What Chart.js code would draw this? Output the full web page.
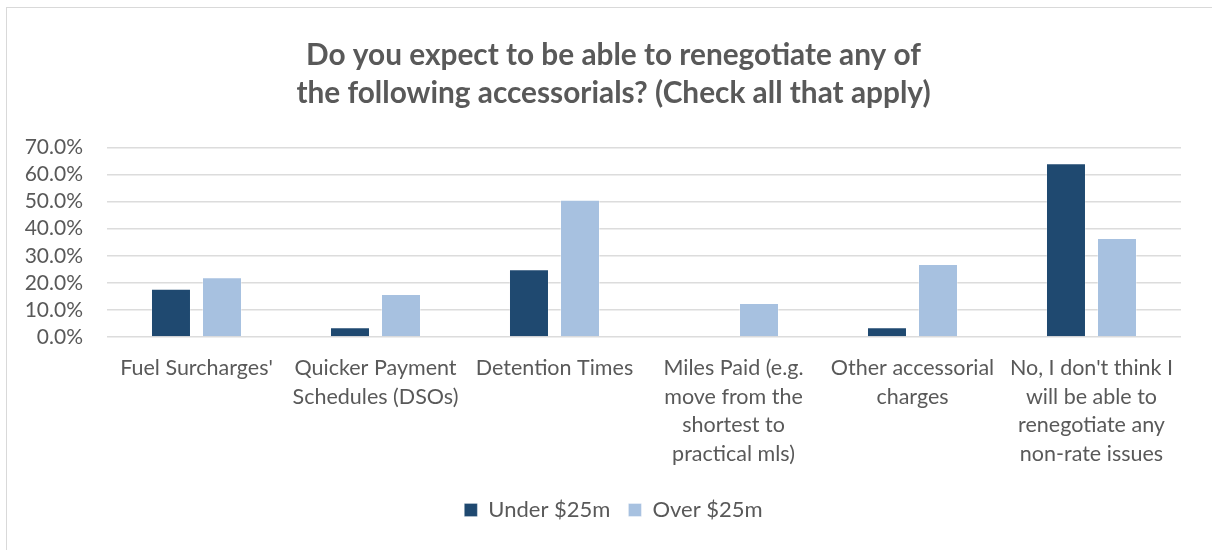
<!DOCTYPE html>
<html>
<head>
<meta charset="utf-8">
<script src="https://cdn.jsdelivr.net/npm/chart.js@4"></script>
<style>
  html, body { margin: 0; padding: 0; background: #fff; overflow: hidden; }
  #frame { position: absolute; left: 6px; top: 7px; width: 1400px; height: 700px;
           border: 1px solid #d9d9d9; box-sizing: border-box; }
  #wrap { position: absolute; left: 0; top: 0; width: 1212px; height: 550px; }
</style>
</head>
<body>
<div id="frame"></div>
<div id="wrap"><canvas id="c" width="1212" height="550"></canvas></div>
<script>
// Survey answers, share of respondents (%)
const categories = [
  ["Fuel Surcharges'"],
  ["Quicker Payment", "Schedules (DSOs)"],
  ["Detention Times"],
  ["Miles Paid (e.g.", "move from the", "shortest to", "practical mls)"],
  ["Other accessorial", "charges"],
  ["No, I don't think I", "will be able to", "renegotiate any", "non-rate issues"]
];
const seriesNames = ["Under $25m", "Over $25m"];
const under25 = [17.8, 3.6, 25.0, 0, 3.6, 64.2];
const over25  = [22.1, 15.9, 50.7, 12.6, 27.0, 36.6];
const yTicks  = [0, 10, 20, 30, 40, 50, 60, 70];
const titleLines = ["Do you expect to be able to renegotiate any of",
                    "the following accessorials? (Check all that apply)"];

const textColor = '#595959';
const fontFamily = 'Lato, "Open Sans", sans-serif';

// Centre title and legend over the plot rather than the full canvas width
const centreOverPlot = {
  id: 'centreOverPlot',
  afterLayout(chart) {
    const shift = 23;
    [chart.titleBlock, chart.legend].forEach(b => {
      if (b) { b.left += shift; b.right += shift; }
    });
  }
};

new Chart(document.getElementById('c'), {
  type: 'bar',
  data: {
    labels: categories,
    datasets: [
      { label: seriesNames[0], data: under25, backgroundColor: '#1F4970',
        borderColor: 'rgba(255,255,255,0.25)', borderWidth: 1,
        categoryPercentage: 0.57, barPercentage: 0.784 },
      { label: seriesNames[1], data: over25, backgroundColor: '#A7C1E0',
        borderColor: 'rgba(255,255,255,0.35)', borderWidth: 1,
        categoryPercentage: 0.57, barPercentage: 0.784 }
    ]
  },
  plugins: [centreOverPlot],
  options: {
    responsive: false,
    animation: false,
    devicePixelRatio: 1,
    layout: { padding: { left: 0, right: 31, top: 0, bottom: 19 } },
    plugins: {
      title: {
        display: true,
        text: titleLines,
        color: textColor,
        font: { family: fontFamily, size: 29.8, weight: 'bold', lineHeight: 38 / 29.8 },
        padding: { top: 36, bottom: 35.5 }
      },
      legend: {
        position: 'bottom',
        labels: {
          color: textColor,
          font: { family: fontFamily, size: 22 },
          boxWidth: 13, boxHeight: 13, padding: 18
        }
      },
      tooltip: { enabled: false }
    },
    scales: {
      x: {
        grid: { display: false },
        border: { display: false },
        ticks: {
          color: textColor,
          font: { family: fontFamily, size: 21.5, lineHeight: 28.5 / 21.5 },
          padding: 9,
          maxRotation: 0, autoSkip: false
        },
        afterFit: s => { s.height = 144; }
      },
      y: {
        min: 0, max: 70,
        afterBuildTicks: s => { s.ticks = yTicks.map(v => ({ value: v })); },
        grid: { color: '#dcdcdc', lineWidth: 1.5, drawTicks: false },
        border: { display: false },
        ticks: {
          color: textColor,
          font: { family: fontFamily, size: 21, lineHeight: 1 },
          padding: 24,
          autoSkip: false,
          callback: v => v.toFixed(1) + '%'
        },
        afterFit: s => { s.width = 107; }
      }
    }
  }
});
</script>
</body>
</html>
